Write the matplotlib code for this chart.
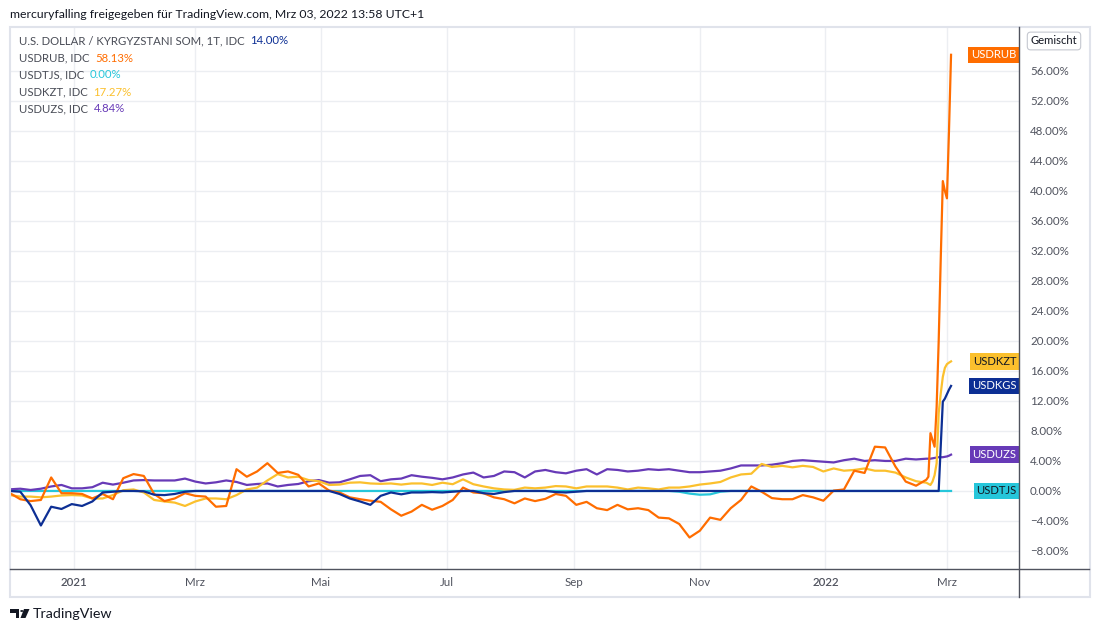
import numpy as np
import pandas as pd
import matplotlib
matplotlib.use('Agg')
import matplotlib.pyplot as plt
from matplotlib.patches import Rectangle, Polygon, Circle
from matplotlib.lines import Line2D

plt.rcParams['font.family'] = ['Lato', 'DejaVu Sans']

W, H = 1100, 632

# sample dates: every 5 days, then daily for the last two weeks
dates = list(pd.date_range('2020-12-01', periods=90, freq='5D')) + \
    list(pd.date_range('2022-02-20', '2022-03-03', freq='D'))

# percent change
usdrub = [-0.3, -1.1, -1.35, -1.2, 1.8, -0.3, -0.3, -0.4, -1.0, -0.4,
          -1.1, 1.7, 2.25, 2.0, -0.4, -1.35, -1.0, -0.3, -0.65, -0.75,
          -2.1, -2.0, 2.9, 1.9, 2.6, 3.7, 2.4, 2.6, 2.15, 0.6,
          1.0, 0.05, -0.2, -0.85, -1.1, -1.3, -1.45, -2.45, -3.3, -2.75,
          -1.85, -2.5, -2.0, -1.2, 0.45, -0.2, -0.3, -0.85, -1.1, -1.65,
          -1.0, -1.35, -1.05, -0.4, -0.65, -1.85, -1.45, -2.3, -2.55, -1.85,
          -2.45, -2.3, -2.55, -3.55, -3.65, -4.4, -6.2, -5.3, -3.55, -3.85,
          -2.3, -1.2, 0.6, -0.1, -0.95, -1.1, -1.1, -0.55, -0.85, -1.3,
          0.05, 0.2, 2.7, 2.4, 5.9, 5.8, 3.25, 1.25, 0.7, 1.5,
          1.9, 7.7, 6.8, 5.9, 11.2, 20.0, 31.0, 41.3, 40.0, 39.0, 48.0, 58.13]

usdkzt = [-0.55, -0.75, -0.75, -0.85, -0.75, -0.6, -0.55, -0.6, -1.0, -1.0,
          -0.55, 0.1, 0.2, -0.2, -1.2, -1.4, -1.55, -2.0, -1.4, -1.0,
          -1.0, -1.1, -0.55, 0.2, 0.45, 1.4, 2.25, 1.8, 1.9, 1.45,
          1.3, 0.8, 0.85, 1.1, 1.15, 1.0, 0.95, 1.0, 0.85, 1.0,
          1.0, 0.8, 1.1, 0.9, 1.55, 0.9, 0.6, 0.35, 0.2, 0.15,
          0.45, 0.35, 0.45, 0.65, 0.6, 0.35, 0.6, 0.6, 0.6, 0.45,
          0.2, 0.45, 0.35, 0.2, 0.45, 0.45, 0.6, 0.85, 1.0, 1.2,
          1.8, 2.2, 2.3, 3.6, 3.2, 3.35, 3.15, 3.35, 3.2, 2.6,
          3.0, 2.7, 2.8, 3.0, 2.7, 2.7, 2.45, 1.8, 1.3, 1.1,
          0.95, 0.8, 1.25, 2.1, 3.7, 10.4, 13.0, 15.2, 16.4, 16.9, 17.1, 17.27]

usduzs = [0.22, 0.3, 0.13, 0.3, 0.6, 0.8, 0.35, 0.35, 0.5, 1.1,
          0.85, 1.1, 1.4, 1.45, 1.4, 1.4, 1.4, 1.65, 1.25, 1.0,
          1.15, 1.4, 1.2, 0.8, 0.93, 1.0, 0.6, 0.8, 0.93, 1.3,
          1.45, 1.1, 1.15, 1.55, 2.0, 2.1, 1.3, 1.55, 1.65, 2.1,
          1.9, 1.75, 1.55, 1.8, 2.2, 2.45, 1.8, 2.0, 2.6, 2.5,
          1.8, 2.6, 2.8, 2.5, 2.35, 2.7, 2.9, 2.2, 2.9, 2.8,
          2.6, 2.7, 2.9, 2.8, 2.9, 2.7, 2.5, 2.5, 2.6, 2.7,
          3.0, 3.4, 3.4, 3.4, 3.5, 3.7, 4.0, 4.1, 4.0, 3.9,
          3.8, 4.1, 4.3, 4.0, 4.1, 4.0, 4.0, 4.3, 4.2, 4.3,
          4.3, 4.3, 4.35, 4.4, 4.45, 4.5, 4.5, 4.5, 4.55, 4.6, 4.7, 4.84]

usdkgs = [0.0, -0.1, -1.9, -4.6, -2.1, -2.4, -1.75, -2.0, -1.4, -0.2,
          -0.1, 0.0, 0.0, -0.05, -0.5, -0.55, -0.4, -0.1, 0.0, 0.0,
          0.0, 0.0, 0.0, 0.0, 0.0, 0.0, 0.0, 0.0, 0.0, 0.0,
          0.0, 0.0, -0.4, -1.0, -1.4, -1.85, -0.65, -0.2, -0.45, -0.2,
          -0.2, -0.15, -0.2, -0.1, 0.0, 0.0, -0.3, -0.4, -0.15, 0.0,
          0.0, 0.0, 0.0, -0.15, -0.2, -0.1, 0.0, 0.0, 0.0, 0.0,
          0.0, 0.0, 0.0, 0.0, 0.0, 0.0, 0.0, 0.0, 0.0, 0.0,
          0.0, 0.0, 0.0, 0.0, 0.0, 0.0, 0.0, 0.0, 0.0, 0.0,
          0.0, 0.0, 0.0, 0.0, 0.0, 0.0, 0.0, 0.0, 0.0, 0.0,
          0.0, 0.0, 0.0, 0.0, 0.0, 0.0, 6.0, 11.9, 12.3, 12.9, 13.5, 14.0]

usdtjs = [0.0, 0.0, 0.0, 0.0, 0.0, 0.0, 0.0, 0.0, 0.0, 0.0,
          0.0, 0.0, 0.0, 0.0, 0.0, 0.0, 0.0, 0.0, 0.0, 0.0,
          0.0, 0.0, 0.0, 0.0, 0.0, 0.0, 0.0, 0.0, 0.0, 0.0,
          0.0, 0.0, 0.0, 0.0, 0.0, 0.0, 0.0, 0.0, 0.0, 0.0,
          0.0, 0.0, 0.0, 0.0, 0.0, 0.0, 0.0, 0.0, 0.0, 0.0,
          0.0, 0.0, 0.0, 0.0, 0.0, 0.0, 0.0, 0.0, 0.0, 0.0,
          0.0, 0.0, 0.0, 0.0, 0.0, -0.1, -0.35, -0.5, -0.45, -0.1,
          0.0, 0.0, 0.0, 0.0, 0.0, 0.0, 0.0, 0.0, 0.0, 0.0,
          0.0, 0.0, 0.0, 0.0, 0.0, 0.0, 0.0, 0.0, 0.0, 0.0,
          0.0, 0.0, 0.0, 0.0, 0.0, 0.0, 0.0, 0.0, 0.0, 0.0, 0.0, 0.0]

# name, values, line colour, label text colour, legend text
series = [
    ('USDTJS', usdtjs, '#26c6da', '#131722', 'USDTJS, IDC'),
    ('USDUZS', usduzs, '#673ab7', 'white', 'USDUZS, IDC'),
    ('USDKZT', usdkzt, '#fbc02d', '#131722', 'USDKZT, IDC'),
    ('USDRUB', usdrub, '#ff6d00', 'white', 'USDRUB, IDC'),
    ('USDKGS', usdkgs, '#0d2f94', 'white', 'U.S. DOLLAR / KYRGYZSTANI SOM, 1T, IDC'),
]
legend_order = ['USDKGS', 'USDRUB', 'USDTJS', 'USDKZT', 'USDUZS']

month_ticks = ['2021-01-01', '2021-03-01', '2021-05-01', '2021-07-01',
               '2021-09-01', '2021-11-01', '2022-01-01', '2022-03-01']
month_labels = ['2021', 'Mrz', 'Mai', 'Jul', 'Sep', 'Nov', '2022', 'Mrz']
y_ticks = np.arange(-8, 57, 4)


def fx(px):
    return px / W


def fy(py):
    return 1 - py / H


fig = plt.figure(figsize=(W / 100, H / 100), dpi=100)
ax = fig.add_axes([fx(10), fy(569), (1019 - 10) / W, (569 - 28) / H])

for name, vals, col, tcol, leg in series:
    ax.plot(dates, vals, color=col, lw=1.6, solid_joinstyle='round')

ax.set_xlim(pd.Timestamp('2020-12-01'), pd.Timestamp('2022-04-05'))
ax.set_ylim(-10.4, 61.7)

ax.set_xticks(pd.to_datetime(month_ticks))
ax.set_xticklabels(month_labels)
for lbl, txt in zip(ax.get_xticklabels(), month_labels):
    lbl.set_color('#131722' if txt.isdigit() else '#50535e')
    if txt.isdigit():
        lbl.set_fontweight('semibold')
ax.yaxis.tick_right()
ax.set_yticks(y_ticks)
ax.set_yticklabels([f'{v:.2f}%'.replace('-', '\u2212') for v in y_ticks])
ax.tick_params(axis='both', length=0, labelsize=8.3, colors='#50535e')
ax.tick_params(axis='x', pad=6)
ax.tick_params(axis='y', pad=8)
ax.grid(color='#eceef2', lw=1)
ax.set_axisbelow(True)
for sp in ax.spines.values():
    sp.set_visible(False)

# last value labels on the right edge of the pane
for name, vals, col, tcol, leg in series:
    ax.text(0.9975, vals[-1], name, transform=ax.get_yaxis_transform(),
            ha='right', va='center', fontsize=8.1, color=tcol,
            bbox=dict(boxstyle='square,pad=0.24', fc=col, ec='none'))

# legend block top-left
by_name = {s[0]: s for s in series}
for i, name in enumerate(legend_order):
    _, vals, col, tcol, leg = by_name[name]
    t = fig.text(fx(19), fy(41 + 17 * i), leg, fontsize=8.2, color='#4a4d57',
                 va='center')
    ax.annotate(f'{vals[-1]:.2f}%', xy=(1, 0.5), xycoords=t, xytext=(4, 0),
                textcoords='offset points', va='center', fontsize=8.2, color=col)

# frame and scale lines
fig.add_artist(Rectangle((fx(10), fy(597)), (1090 - 10) / W, (597 - 27) / H,
                         transform=fig.transFigure, fill=False,
                         ec='#e0e3eb', lw=1.5))
fig.add_artist(Line2D([fx(10), fx(1089)], [fy(569), fy(569)],
                      transform=fig.transFigure, color='#50535e', lw=1))
fig.add_artist(Line2D([fx(1019), fx(1019)], [fy(27), fy(597)],
                      transform=fig.transFigure, color='#50535e', lw=1))

fig.text(fx(1054), fy(41), 'Gemischt', ha='center', va='center', fontsize=8.1,
         color='#131722',
         bbox=dict(boxstyle='round,pad=0.3,rounding_size=0.3', fc='white',
                   ec='#c5c8d0', lw=0.8))

fig.text(fx(10), fy(14), 'mercuryfalling freigegeben für TradingView.com, '
         'Mrz 03, 2022 13:58 UTC+1', fontsize=8.8, color='#131722', va='center')

# TradingView logo
logo = [
    Polygon([(fx(10), fy(609)), (fx(19), fy(609)), (fx(19), fy(618)),
             (fx(15.5), fy(618)), (fx(15.5), fy(612.5)), (fx(10), fy(612.5))],
            closed=True),
    Circle((fx(21.8), fy(611)), 1.6 / W),
    Polygon([(fx(24), fy(609)), (fx(29.5), fy(609)), (fx(25.5), fy(618)),
             (fx(20.5), fy(618))], closed=True),
]
for p in logo:
    p.set_transform(fig.transFigure)
    p.set_facecolor('#131722')
    p.set_edgecolor('none')
    fig.add_artist(p)
fig.text(fx(33), fy(614), 'TradingView', fontsize=10.3, color='#131722',
         va='center')

fig.savefig('out.png', dpi=100)
